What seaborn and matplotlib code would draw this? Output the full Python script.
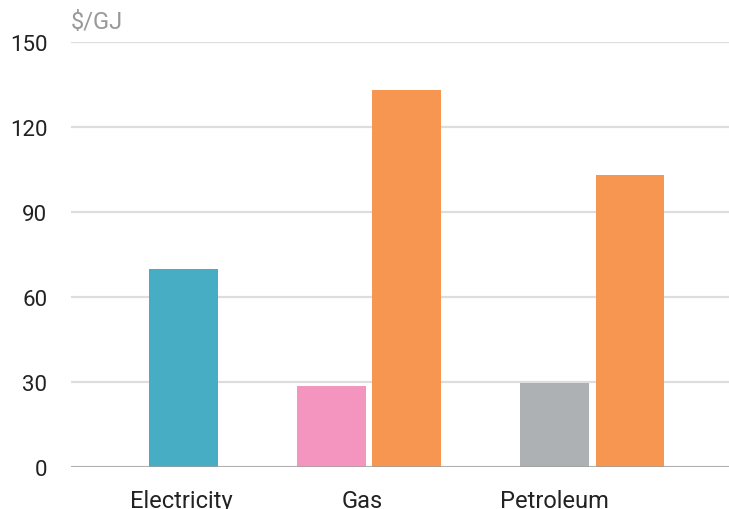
import numpy as np
import pandas as pd
import matplotlib
matplotlib.use("Agg")
import matplotlib.pyplot as plt
import seaborn as sns

# Energy prices by fuel ($/GJ)
categories = ["Electricity", "Gas", "Petroleum"]
bar_category = ["Electricity", "Gas", "Gas", "Petroleum", "Petroleum"]
bar_slot = ["b", "a", "b", "a", "b"]
bar_value = [70, 28.6, 133, 29.6, 103]
bar_color = ["#47ADC5", "#F395BF", "#F69651", "#AEB1B3", "#F69651"]
slots = ["a", "b"]
y_ticks = [0, 30, 60, 90, 120, 150]
unit_label = "$/GJ"

df = pd.DataFrame({"category": bar_category, "slot": bar_slot, "value": bar_value})
color_map = {(c, s): col for c, s, col in zip(bar_category, bar_slot, bar_color)}

sns.set_theme(style="white")
plt.rcParams["font.family"] = ["Roboto", "DejaVu Sans"]
FS = 16

fig = plt.figure(figsize=(7.29, 5.10), dpi=100)
ax = fig.add_axes([0.0974, 0.0824, 0.9026, 0.8333])

sns.barplot(data=df, x="category", y="value", hue="slot", order=categories,
            hue_order=slots, width=0.673, gap=0.093, dodge=True,
            palette=["#cccccc", "#cccccc"], legend=False, ax=ax,
            errorbar=None, saturation=1)

# colour each bar by its fuel / slot
for container, slot in zip(ax.containers, slots):
    for bar in container:
        if np.isnan(bar.get_height()) or bar.get_height() == 0:
            continue
        idx = int(round(bar.get_x() + bar.get_width() / 2))
        bar.set_facecolor(color_map.get((categories[idx], slot), "#cccccc"))
        bar.set_edgecolor("none")

ax.set_ylim(0, 150)
ax.set_xlim(-0.336, 2.614)
ax.set_yticks(y_ticks)
ax.set_yticklabels([str(t) for t in y_ticks])
ax.yaxis.grid(True, color="#dddddd", linewidth=1.6)
ax.set_axisbelow(True)
ax.axhline(0, color="#a0a0a0", linewidth=1.8, zorder=5)

label_offsets = [0.16, -0.03, -0.17]
ax.set_xticks([i + o for i, o in enumerate(label_offsets)])
ax.set_xticklabels(categories)
ax.tick_params(axis="both", length=0, labelsize=FS, labelcolor="#222222")
ax.tick_params(axis="x", pad=16, labelsize=17)
ax.tick_params(axis="y", pad=17)
for lbl in ax.get_yticklabels():
    lbl.set_horizontalalignment("right")

for s in ax.spines.values():
    s.set_visible(False)
ax.set_xlabel("")
ax.set_ylabel("")

ax.text(0.0, 1.02, unit_label, transform=ax.transAxes, fontsize=17,
        color="#999999", ha="left", va="bottom")

fig.savefig("out.png", dpi=100)
